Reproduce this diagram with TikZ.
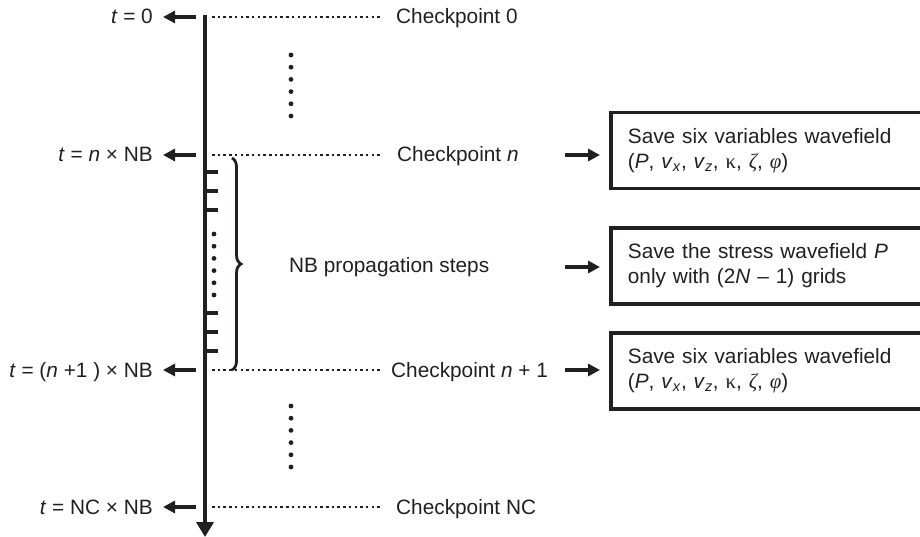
\documentclass[tikz,border=0pt]{standalone}
\usepackage{fontspec}
\setmainfont{Liberation Sans}
\newfontfamily\grk{Liberation Serif}
\usetikzlibrary{arrows.meta,decorations.pathreplacing}
\definecolor{ink}{RGB}{35,31,32}
\begin{document}
\begin{tikzpicture}[x=1pt,y=-1pt,
  every node/.style={inner sep=0pt,text=ink,font=\fontsize{20.8}{25}\selectfont},
  lbl/.style={anchor=base east},
  cpt/.style={anchor=base west},
  axisline/.style={draw=ink,line width=3.6pt,-{Triangle[length=15pt,width=17pt]}},
  larrow/.style={draw=ink,line width=3.8pt,-{Triangle[length=12pt,width=12pt]}},
  rarrow/.style={draw=ink,line width=3.8pt,-{Triangle[length=12pt,width=12pt]}},
  dotline/.style={draw=ink,line width=2.5pt,dash pattern=on 2.5pt off 3.2pt},
  tick/.style={draw=ink,line width=3.2pt},
  savebox/.style={draw=ink,line width=3.8pt,anchor=west,minimum height=76pt,
    inner xsep=17pt,text width=290pt,align=left},
  vdot/.style={fill=ink}
]
\useasboundingbox (0,0) rectangle (920,537);
\clip (0,0) rectangle (920,537);

% time axis
\coordinate (top) at (205,15);
\coordinate (bot) at (205,537);
\draw[axisline] (top) -- (bot);

% rows on the axis
\coordinate (r0) at (205,17);
\coordinate (rn) at (205,155);
\coordinate (rn1) at (205,370);
\coordinate (rnc) at (205,507);

% time labels
\node[lbl] (l0)  at (153,24)  {\textit{t} = 0};
\node[lbl] (ln)  at (153,162) {\textit{t} = \textit{n} × NB};
\node[lbl] (ln1) at (153,377) {\textit{t} = (\textit{n} +1 ) × NB};
\node[lbl] (lnc) at (153,514) {\textit{t} = NC × NB};

\draw[larrow] ([xshift=-9pt]r0)  -- ([xshift=10pt]r0 -| l0.east);
\draw[larrow] ([xshift=-9pt]rn)  -- ([xshift=10pt]rn -| ln.east);
\draw[larrow] ([xshift=-9pt]rn1) -- ([xshift=10pt]rn1 -| ln1.east);
\draw[larrow] ([xshift=-9pt]rnc) -- ([xshift=10pt]rnc -| lnc.east);

% checkpoint labels
\node[cpt] (c0)  at (396,24)  {Checkpoint 0};
\node[cpt] (cn)  at (397,162) {Checkpoint \textit{n}};
\node[cpt] (cn1) at (391,377) {Checkpoint \textit{n} + 1};
\node[cpt] (cnc) at (396,514) {Checkpoint NC};

\draw[dotline] ([xshift=7pt]r0)  -- ([xshift=-15pt]r0 -| c0.west);
\draw[dotline] ([xshift=7pt]rn)  -- ([xshift=-16pt]rn -| cn.west);
\draw[dotline] ([xshift=7pt]rn1) -- ([xshift=-10pt]rn1 -| cn1.west);
\draw[dotline] ([xshift=7pt]rnc) -- ([xshift=-15pt]rnc -| cnc.west);

% elided checkpoints
\foreach \k in {0,...,5} {
  \fill[vdot] (291,55+12.2*\k) circle (2.4pt);
  \fill[vdot] (291,406+12.2*\k) circle (2.4pt);
  \fill[vdot] (214,234+12.2*\k) circle (2.4pt);
}

% propagation step ticks
\foreach \y in {172,191,210,313,332,351} {
  \draw[tick] (205,\y) -- (218,\y);
}

% brace over the propagation steps
\draw[draw=ink,line width=2.8pt,decorate,decoration={brace,amplitude=9pt}]
  (232,158) -- (232,370);
\node[anchor=base west] (steps) at (289,272) {NB propagation steps};

% saved wavefields
\node[savebox] (b1) at (609,150.5) {Save six variables wavefield\\
  (\textit{P}, \textit{v}\textsubscript{\textit{x}}, \textit{v}\textsubscript{\textit{z}}, {\grk κ}, {\grk\itshape ζ}, {\grk\itshape φ})};
\node[savebox] (b2) at (609,266) {Save the stress wavefield \textit{P}\\
  only with (2\textit{N} – 1) grids};
\node[savebox] (b3) at (609,371) {Save six variables wavefield\\
  (\textit{P}, \textit{v}\textsubscript{\textit{x}}, \textit{v}\textsubscript{\textit{z}}, {\grk κ}, {\grk\itshape ζ}, {\grk\itshape φ})};

\coordinate (a1) at (565,155);
\coordinate (a2) at (565,267);
\coordinate (a3) at (565,370);
\draw[rarrow] (a1) -- ([xshift=-9pt]a1 -| b1.west);
\draw[rarrow] (a2) -- ([xshift=-9pt]a2 -| b2.west);
\draw[rarrow] (a3) -- ([xshift=-9pt]a3 -| b3.west);
\end{tikzpicture}
\end{document}
